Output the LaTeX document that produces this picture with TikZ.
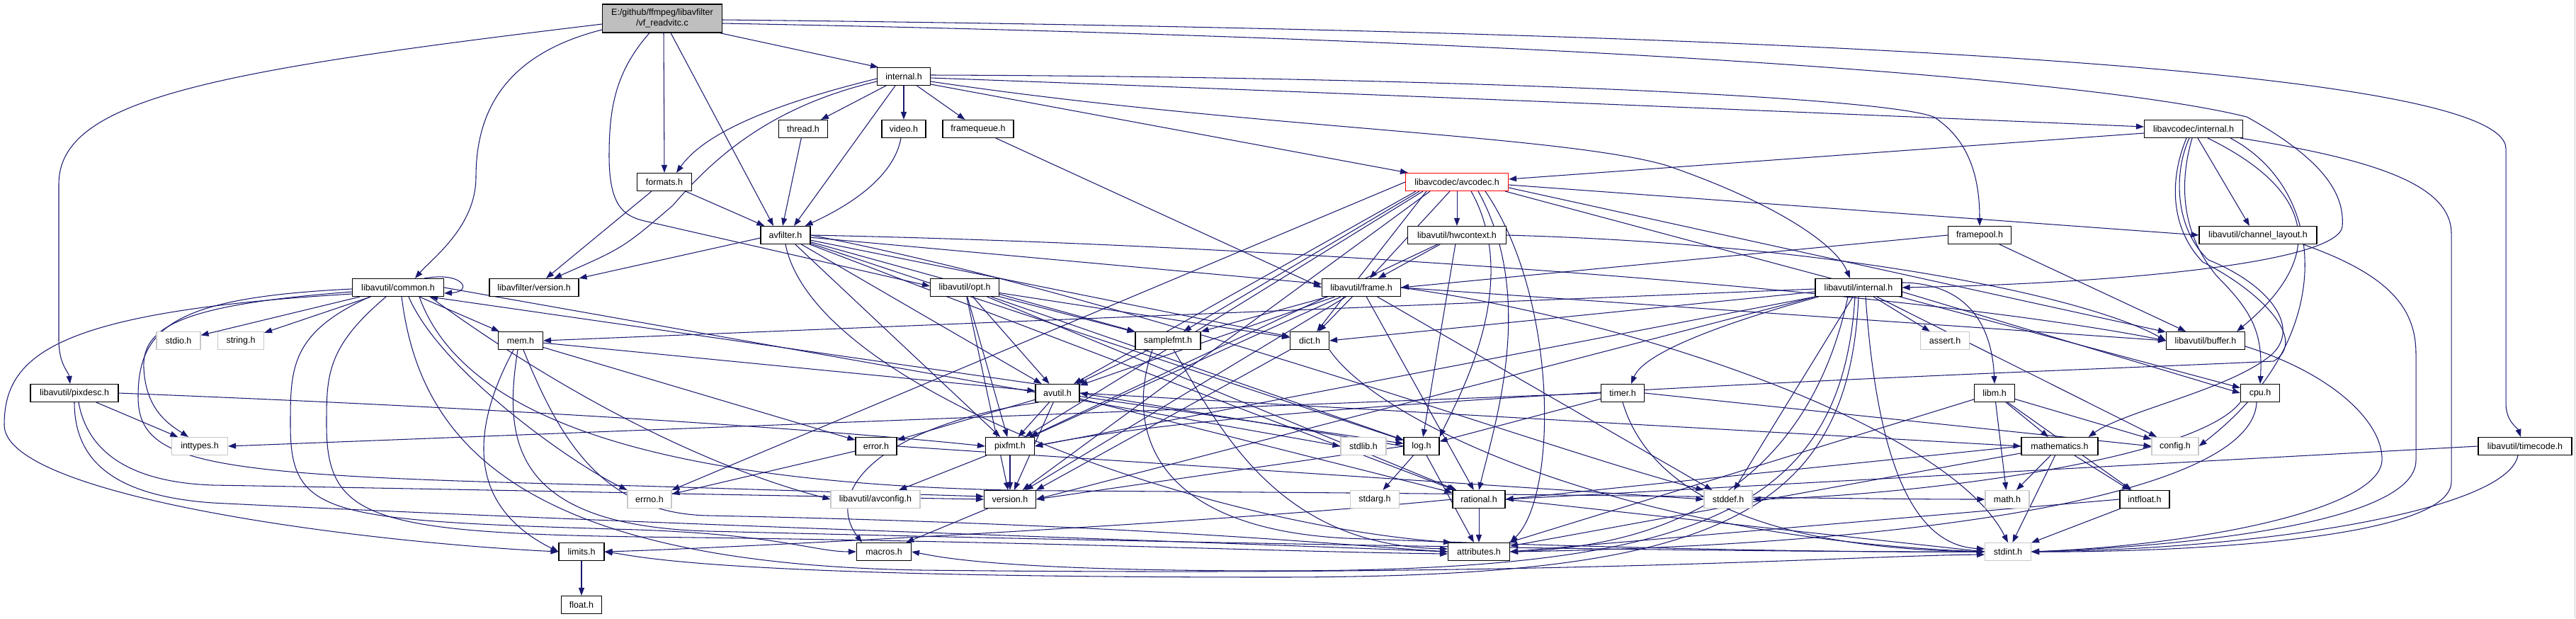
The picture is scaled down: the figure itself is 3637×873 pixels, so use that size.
\documentclass[tikz,border=0pt]{standalone}
\usepackage{fontspec}
\setmainfont{Liberation Sans}
\usetikzlibrary{arrows.meta,calc}
\definecolor{ecol}{HTML}{191970}
\definecolor{rootgray}{HTML}{BFBFBF}
\definecolor{ghost}{HTML}{C8C8C8}
\newcommand\nodefont{\fontsize{12.5}{15}\selectfont}
\pgfdeclarelayer{bg}
\pgfsetlayers{bg,main}
\tikzset{
  nb/.style={draw=black, line width=1.1pt, fill=white, minimum height=25pt, inner sep=0pt, font=\nodefont, text=black},
  ng/.style={nb, draw=ghost},
  e/.style={draw=ecol, line width=1.05pt, -{Triangle[length=11pt,width=8pt]}},
}
\begin{document}
\begin{tikzpicture}[x=1pt,y=1pt]
\useasboundingbox (0,0) rectangle (3637,-873);
\draw[ghost, line width=1pt] (3635.5,0) -- (3635.5,-873);
% nodes
\node[nb, fill=rootgray, minimum width=169pt, minimum height=40pt, align=center] (root) at (935,-26) {E:/github/ffmpeg/libavfilter\\/vf\_readvitc.c};
\node[nb, minimum width=75pt] (internal) at (1276,-108) {internal.h};
\node[nb, minimum width=69pt] (thread) at (1134,-182) {thread.h};
\node[nb, minimum width=62pt] (video) at (1276,-182) {video.h};
\node[nb, minimum width=100pt] (framequeue) at (1381,-182) {framequeue.h};
\node[nb, minimum width=139pt] (lacint) at (3097,-182) {libavcodec/internal.h};
\node[nb, minimum width=77pt] (formats) at (938,-257) {formats.h};
\node[nb, draw=red, minimum width=145pt] (avcodec) at (2057,-257) {libavcodec/avcodec.h};
\node[nb, minimum width=70pt] (avfilter) at (1109,-332) {avfilter.h};
\node[nb, minimum width=139pt] (hwcontext) at (2057,-332) {libavutil/hwcontext.h};
\node[nb, minimum width=89pt] (framepool) at (2795,-332) {framepool.h};
\node[nb, minimum width=166pt] (chlayout) at (3188,-332) {libavutil/channel\_layout.h};
\node[nb, minimum width=129pt] (common) at (562,-406) {libavutil/common.h};
\node[nb, minimum width=126pt] (lafver) at (754,-406) {libavfilter/version.h};
\node[nb, minimum width=97pt] (opt) at (1362,-406) {libavutil/opt.h};
\node[nb, minimum width=111pt] (frame) at (1922,-406) {libavutil/frame.h};
\node[nb, minimum width=122pt] (lauint) at (2624,-406) {libavutil/internal.h};
\node[ng, minimum width=62pt] (stdio) at (252,-481) {stdio.h};
\node[ng, minimum width=65pt] (string) at (340,-481) {string.h};
\node[nb, minimum width=63pt] (mem) at (735,-481) {mem.h};
\node[nb, minimum width=92pt] (samplefmt) at (1649,-481) {samplefmt.h};
\node[nb, minimum width=55pt] (dict) at (1849,-481) {dict.h};
\node[ng, minimum width=69pt] (assert) at (2746,-481) {assert.h};
\node[nb, minimum width=111pt] (buffer) at (3114,-481) {libavutil/buffer.h};
\node[nb, minimum width=124pt] (pixdesc) at (105,-555) {libavutil/pixdesc.h};
\node[nb, minimum width=62pt] (avutil) at (1493,-555) {avutil.h};
\node[nb, minimum width=61pt] (timer) at (2291,-555) {timer.h};
\node[nb, minimum width=57pt] (libm) at (2816,-555) {libm.h};
\node[nb, minimum width=55pt] (cpu) at (3191,-555) {cpu.h};
\node[ng, minimum width=79pt] (inttypes) at (282,-630) {inttypes.h};
\node[nb, minimum width=58pt] (error) at (1237,-630) {error.h};
\node[nb, minimum width=69pt] (pixfmt) at (1426,-630) {pixfmt.h};
\node[ng, minimum width=64pt] (stdlib) at (1925,-630) {stdlib.h};
\node[nb, minimum width=50pt] (log) at (2007,-630) {log.h};
\node[nb, minimum width=108pt] (mathematics) at (2908,-630) {mathematics.h};
\node[ng, minimum width=66pt] (config) at (3071,-630) {config.h};
\node[nb, minimum width=132pt] (timecode) at (3565,-630) {libavutil/timecode.h};
\node[ng, minimum width=62pt] (errno) at (917,-705) {errno.h};
\node[ng, minimum width=126pt] (avconfig) at (1236,-705) {libavutil/avconfig.h};
\node[nb, minimum width=73pt] (version) at (1426,-705) {version.h};
\node[ng, minimum width=69pt] (stdarg) at (1941,-705) {stdarg.h};
\node[nb, minimum width=74pt] (rational) at (2088,-705) {rational.h};
\node[ng, minimum width=68pt] (stddef) at (2440,-705) {stddef.h};
\node[ng, minimum width=62pt] (math) at (2834,-705) {math.h};
\node[nb, minimum width=70pt] (intfloat) at (3028,-705) {intfloat.h};
\node[nb, minimum width=64pt] (limits) at (821,-779) {limits.h};
\node[nb, minimum width=77pt] (macros) at (1248,-779) {macros.h};
\node[nb, minimum width=87pt] (attributes) at (2088,-779) {attributes.h};
\node[ng, minimum width=65pt] (stdint) at (2835,-779) {stdint.h};
\node[nb, minimum width=57pt] (float) at (821,-854) {float.h};

\begin{pgfonlayer}{bg}
% root
\draw[e] ($(root.west)+(0,-8)$) .. controls (300,-100) and (83,-140) .. (83,-260) -- (83,-480) .. controls (83,-515) and (97,-525) .. ($(pixdesc.north)+(-6,0)$);
\draw[e] ($(root.west)+(0,-16)$) .. controls (720,-75) and (672,-150) .. (672,-250) .. controls (672,-320) and (610,-365) .. ($(common.north)+(24,0)$);
\draw[e] ($(root.south)+(-18,0)$) .. controls (870,-100) and (860,-150) .. (860,-220) .. controls (860,-290) and (880,-305) .. (910,-312) -- ($(opt.west)+(0,2)$);
\draw[e] ($(root.south)+(2,0)$) -- (formats.north);
\draw[e] ($(root.south)+(12,0)$) -- ($(avfilter.north)+(-17,0)$);
\draw[e] ($(root.south east)+(-4,0)$) -- ($(internal.north west)+(2,0)$);
\draw[e] ($(root.east)+(0,-7)$) .. controls (2200,-55) and (2950,-110) .. (3172,-165) .. controls (3290,-230) and (3310,-280) .. (3307,-320) .. controls (3300,-370) and (3000,-400) .. (lauint.east);
\draw[e] ($(root.east)+(0,-2)$) .. controls (2600,-45) and (3538,-100) .. (3538,-210) -- (3538,-570) .. controls (3538,-595) and (3555,-605) .. ($(timecode.north)+(-6,0)$);
% internal.h
\draw[e] ($(internal.east)+(0,-7)$) .. controls (1750,-180) and (2200,-190) .. (2351,-233) .. controls (2490,-280) and (2590,-340) .. ($(lauint.north)+(-12,0)$);
\draw[e] ($(internal.east)+(0,-11)$) -- ($(avcodec.north west)+(4,0)$);
\draw[e] ($(internal.east)+(0,-2)$) .. controls (2000,-135) and (2700,-165) .. ($(lacint.west)+(0,3)$);
\draw[e] ($(internal.east)+(0,2)$) .. controls (2000,-108) and (2650,-135) .. (2730,-165) .. controls (2785,-200) and (2795,-260) .. (framepool.north);
\draw[e] (internal) -- (framequeue);
\draw[e] (internal) -- (thread);
\draw[e] (internal) -- (video);
\draw[e] ($(internal.south)+(-12,0)$) -- ($(avfilter.north)+(12,0)$);
\draw[e] ($(internal.west)+(0,-3)$) .. controls (1120,-140) and (1000,-180) .. ($(formats.north)+(17,0)$);
\draw[e] ($(internal.west)+(0,-7)$) .. controls (1090,-150) and (1010,-220) .. (950,-290) .. controls (880,-350) .. ($(lafver.north)+(28,0)$);
% thread, video, framequeue, formats
\draw[e] (thread) -- ($(avfilter.north)+(-4,0)$);
\draw[e] ($(video.south)+(-4,0)$) .. controls (1262,-250) and (1200,-290) .. ($(avfilter.north east)+(-8,0)$);
\draw[e] ($(framequeue.south)+(25,0)$) -- (frame.west);
\draw[e] (formats) -- (avfilter);
\draw[e] ($(formats.south)+(-18,0)$) -- ($(lafver.north)+(17,0)$);
% avfilter.h
\draw[e] ($(avfilter.west)+(0,-4)$) -- (lafver.north east);
\draw[e] (avfilter) -- (avutil);
\draw[e] (avfilter) -- (pixfmt);
\draw[e] (avfilter.east) .. controls (1800,-345) and (2700,-410) .. (buffer.west);
\draw[e] (avfilter) -- (frame);
\draw[e] (avfilter) -- (dict);
\draw[e] (avfilter) -- (samplefmt);
\draw[e] (avfilter) -- (log);
\draw[e] (avfilter) -- (rational);
\draw[e] (avfilter.east) .. controls (1600,-420) and (2200,-640) .. (stddef.north west);
\draw[e] (avfilter.south) .. controls (1150,-550) and (1700,-740) .. ($(attributes.north west)+(5,0)$);
% avcodec.h
\draw[e] (avcodec) -- (hwcontext);
\draw[e] ($(avcodec.south)+(-10,0)$) -- (frame);
\draw[e] ($(avcodec.south west)+(30,0)$) -- (dict);
\draw[e] ($(avcodec.south west)+(20,0)$) -- (samplefmt);
\draw[e] ($(avcodec.south west)+(15,0)$) -- (avutil);
\draw[e] ($(avcodec.south west)+(25,0)$) -- (pixfmt);
\draw[e] ($(avcodec.south west)+(35,0)$) -- (version);
\draw[e] (avcodec.west) -- (errno.north east);
\draw[e] ($(avcodec.south)+(20,0)$) .. controls (2150,-400) and (2060,-560) .. (log.north east);
\draw[e] ($(avcodec.south)+(30,0)$) .. controls (2170,-420) and (2110,-600) .. (rational.north);
\draw[e] ($(avcodec.south)+(40,0)$) .. controls (2200,-420) and (2200,-700) .. (attributes.north east);
\draw[e] ($(avcodec.east)+(0,-4)$) -- (chlayout.west);
\draw[e] ($(avcodec.east)+(0,-8)$) -- (buffer);
\draw[e] ($(avcodec.south east)+(-5,0)$) -- (cpu);
% libavcodec/internal.h
\draw[e] ($(lacint.west)+(0,-6)$) -- ($(avcodec.east)+(0,4)$);
\draw[e] ($(lacint.south)+(6,0)$) -- ($(chlayout.north)+(-12,0)$);
\draw[e] ($(lacint.south)+(20,0)$) .. controls (3250,-260) and (3300,-350) .. ($(buffer.north east)+(-12,0)$);
\draw[e] ($(lacint.south east)+(-4,0)$) .. controls (3350,-225) and (3461,-260) .. (3461,-330) -- (3461,-680) .. controls (3461,-765) and (3050,-780) .. (stdint.east);
\draw[e] ($(lacint.south east)+(-18,0)$) .. controls (3290,-270) and (3300,-480) .. (config.east);
\draw[e] ($(lacint.south)+(-6,0)$) .. controls (3070,-240) and (3068,-320) .. (3118,-367) .. controls (3200,-400) and (3250,-460) .. (3208,-500) .. controls (3150,-550) and (3000,-580) .. ($(mathematics.north east)+(-14,0)$);
\draw[e] ($(lacint.south)+(-10,0)$) .. controls (3064,-250) and (3062,-320) .. (3110,-370) .. controls (3190,-410) and (3260,-480) .. (3210,-510) .. controls (2900,-525) and (1800,-560) .. (pixfmt.east);
\draw[e] ($(lacint.south)+(-2,0)$) .. controls (3076,-260) and (3080,-330) .. (3130,-390) .. controls (3180,-440) and (3195,-470) .. (cpu.north);
% hwcontext, framepool, channel_layout
\draw[e] (hwcontext) -- (frame);
\draw[e] (hwcontext) -- (log);
\draw[e] (hwcontext) -- (pixfmt);
\draw[e] (hwcontext.east) .. controls (2600,-345) and (2950,-420) .. (buffer.west);
\draw[e] (framepool) -- (buffer);
\draw[e] (framepool.west) -- (frame.east);
\draw[e] ($(chlayout.south east)+(-20,0)$) .. controls (3380,-390) and (3411,-440) .. (3411,-500) -- (3411,-650) .. controls (3411,-750) and (3000,-775) .. (stdint.east);
% common.h
\draw[e] ($(common.north east)+(-28,0)$) .. controls (655,-383) and (668,-412) .. ($(common.east)+(0,-8)$);
\draw[e] (common) -- (stdio);
\draw[e] (common) -- (string);
\draw[e] (common) -- (mem);
\draw[e] ($(common.west)+(0,-6)$) .. controls (260,-430) and (200,-460) .. (203,-520) .. controls (206,-580) and (240,-600) .. ($(inttypes.north)+(-16,0)$);
\draw[e] ($(common.west)+(0,-2)$) .. controls (250,-420) and (195,-460) .. (195,-560) .. controls (195,-660) and (300,-672) .. (900,-686) -- ($(version.west)+(0,4)$);
\draw[e] ($(common.west)+(0,-9)$) .. controls (80,-440) and (6,-500) .. (6,-600) .. controls (6,-700) and (500,-765) .. (limits.west);
\draw[e] ($(common.south)+(15,0)$) .. controls (620,-520) and (800,-650) .. (errno.north west);
\draw[e] ($(common.south east)+(-20,0)$) .. controls (800,-560) and (1000,-660) .. (avconfig.west);
\draw[e] ($(common.south)+(-40,0)$) .. controls (410,-470) and (410,-520) .. (410,-600) .. controls (410,-730) and (460,-735) .. (900,-748) .. controls (1100,-755) and (1150,-779) .. (macros.west);
\draw[e] ($(common.south)+(-17,0)$) .. controls (461,-490) and (461,-530) .. (461,-600) .. controls (461,-730) and (520,-752) .. (900,-758) .. controls (1500,-765) and (1800,-779) .. ($(attributes.west)+(0,-3)$);
\draw[e] ($(common.south)+(5,0)$) .. controls (590,-600) and (700,-795) .. (1300,-805) .. controls (2200,-815) and (2600,-785) .. ($(stdint.west)+(0,-4)$);
\draw[e] ($(common.south)+(30,0)$) .. controls (650,-580) and (900,-690) .. (1500,-693) .. controls (2300,-698) and (2600,-705) .. (math.west);
\draw[e] (common.east) -- (stdlib.west);
% mem.h
\draw[e] (mem) -- (error);
\draw[e] (mem) -- (avutil);
\draw[e] ($(mem.south)+(-10,0)$) .. controls (690,-560) and (630,-700) .. (limits.west);
\draw[e] ($(mem.south)+(-4,0)$) .. controls (711,-620) and (720,-742) .. (1000,-750) .. controls (1800,-770) and (2500,-780) .. (stdint.west);
\draw[e] ($(mem.south)+(4,0)$) .. controls (790,-620) and (850,-725) .. (1000,-728) .. controls (1600,-740) and (1900,-770) .. (attributes.west);
% error.h
\draw[e] (error) -- (errno);
\draw[e] (error.east) -- (stddef.west);
% avutil.h
\draw[e] (avutil.north west) -- ($(common.south)+(45,0)$);
\draw[e] (avutil) -- (error);
\draw[e] (avutil) -- (pixfmt);
\draw[e] (avutil) -- (version);
\draw[e] (avutil) -- (log);
\draw[e] (avutil) -- (rational);
\draw[e] (avutil.east) -- (mathematics.west);
\draw[e] ($(avutil.south west)+(5,0)$) .. controls (1250,-600) and (1160,-690) .. ($(macros.north west)+(8,0)$);
% pixfmt, version
\draw[e] (pixfmt) -- (avconfig);
\draw[e] (pixfmt) -- (version);
\draw[e] (version) -- (macros);
% log.h
\draw[e] (log) -- (stdarg);
\draw[e] (log) -- (attributes);
\draw[e] (log.west) -- (version.east);
\draw[e] (log.west) -- (avutil.east);
% rational.h
\draw[e] (rational) -- (attributes);
\draw[e] (rational.west) .. controls (1700,-740) and (1000,-775) .. (limits.east);
\draw[e] (rational.east) -- (stdint.west);
% samplefmt.h
\draw[e] (samplefmt) -- (avutil);
\draw[e] ($(samplefmt.south)+(8,0)$) .. controls (1720,-600) and (1800,-770) .. ($(attributes.west)+(0,4)$);
\draw[e] ($(samplefmt.south)+(-22,0)$) .. controls (1590,-600) and (1620,-745) .. (1900,-760) .. controls (2300,-775) and (2600,-780) .. (stdint.west);
% dict.h
\draw[e] (dict.south west) -- (version.north east);
\draw[e] (dict.south east) .. controls (1950,-600) and (2300,-760) .. (stdint.west);
% buffer.h
\draw[e] ($(buffer.east)+(0,-8)$) .. controls (3300,-530) and (3365,-600) .. (3363,-650) .. controls (3360,-720) and (3100,-770) .. (stdint.east);
% frame.h
\draw[e] (frame) -- (avutil);
\draw[e] (frame) -- (dict);
\draw[e] (frame) -- (samplefmt);
\draw[e] (frame) -- (pixfmt);
\draw[e] (frame) -- (version);
\draw[e] (frame) -- (rational);
\draw[e] (frame) -- (stddef);
\draw[e] (frame.east) -- (buffer.west);
\draw[e] (frame.east) .. controls (2300,-450) and (2750,-600) .. (stdint.north);
% opt.h
\draw[e] (opt) -- (avutil);
\draw[e] (opt) -- (samplefmt);
\draw[e] (opt) -- (dict);
\draw[e] (opt) -- (log);
\draw[e] (opt) -- (pixfmt);
\draw[e] (opt) -- (version);
\draw[e] (opt) -- (rational);
% libavutil/internal.h
\draw[e] (lauint) -- (assert);
\draw[e] ($(lauint.west)+(0,-6)$) -- (dict.east);
\draw[e] ($(lauint.west)+(0,-2)$) -- (mem.east);
\draw[e] (lauint.south west) -- (pixfmt.east);
\draw[e] (lauint.south west) -- (version.east);
\draw[e] ($(lauint.south west)+(5,0)$) .. controls (2420,-460) and (2320,-500) .. ($(timer.north)+(12,0)$);
\draw[e] (lauint) -- (stddef);
\draw[e] (lauint) -- (config);
\draw[e] ($(lauint.east)+(0,-6)$) -- (cpu.west);
\draw[e] ($(lauint.north east)+(0,-6)$) .. controls (2770,-400) and (2812,-450) .. (libm.north);
\draw[e] ($(lauint.south)+(-15,0)$) .. controls (2560,-650) and (2400,-770) .. (attributes.east);
\draw[e] ($(lauint.south)+(10,0)$) .. controls (2650,-650) and (2700,-770) .. ($(stdint.west)+(0,4)$);
\draw[e] ($(lauint.south)+(-5,0)$) .. controls (2600,-720) and (2400,-806) .. (1800,-806) .. controls (1400,-806) and (1320,-785) .. (macros.east);
\draw[e] (lauint.south) .. controls (2610,-740) and (2400,-815) .. (1800,-815) .. controls (1000,-815) and (900,-785) .. (limits.east);
% timer.h
\draw[e] (timer.west) -- (inttypes.east);
\draw[e] (timer) -- (log);
\draw[e] (timer.east) -- (config.west);
\draw[e] (timer.south) .. controls (2330,-700) and (2500,-775) .. (stdint.west);
% libm.h
\draw[e] (libm) -- (math);
\draw[e] (libm) -- (config);
\draw[e] (libm) -- (intfloat);
\draw[e] (libm) -- (mathematics);
\draw[e] (libm) -- (attributes);
% mathematics.h
\draw[e] (mathematics) -- (math);
\draw[e] (mathematics) -- (intfloat);
\draw[e] (mathematics) -- (stdint);
\draw[e] (mathematics.west) -- (rational.east);
\draw[e] (mathematics) -- (attributes);
% intfloat.h
\draw[e] (intfloat) -- (stdint);
\draw[e] (intfloat.west) -- (attributes.east);
% cpu.h
\draw[e] ($(cpu.south)+(-5,0)$) .. controls (3180,-700) and (2700,-770) .. (attributes.east);
\draw[e] (cpu.south west) .. controls (3100,-650) and (2700,-700) .. (stddef.east);
% limits.h
\draw[e] (limits) -- (float);
% pixdesc.h
\draw[e] (pixdesc) -- (inttypes);
\draw[e] (pixdesc.east) .. controls (800,-580) and (1200,-610) .. (pixfmt.west);
\draw[e] ($(pixdesc.south)+(6,0)$) .. controls (120,-620) and (160,-680) .. (300,-685) .. controls (600,-690) and (1100,-700) .. (version.west);
\draw[e] (pixdesc.south) .. controls (105,-650) and (160,-700) .. (300,-710) .. controls (900,-740) and (1700,-765) .. (attributes.west);
% timecode.h
\draw[e] (timecode.west) -- (rational.east);
\draw[e] ($(timecode.south)+(-10,0)$) .. controls (3540,-720) and (3200,-775) .. (stdint.east);
\end{pgfonlayer}
\end{tikzpicture}
\end{document}
